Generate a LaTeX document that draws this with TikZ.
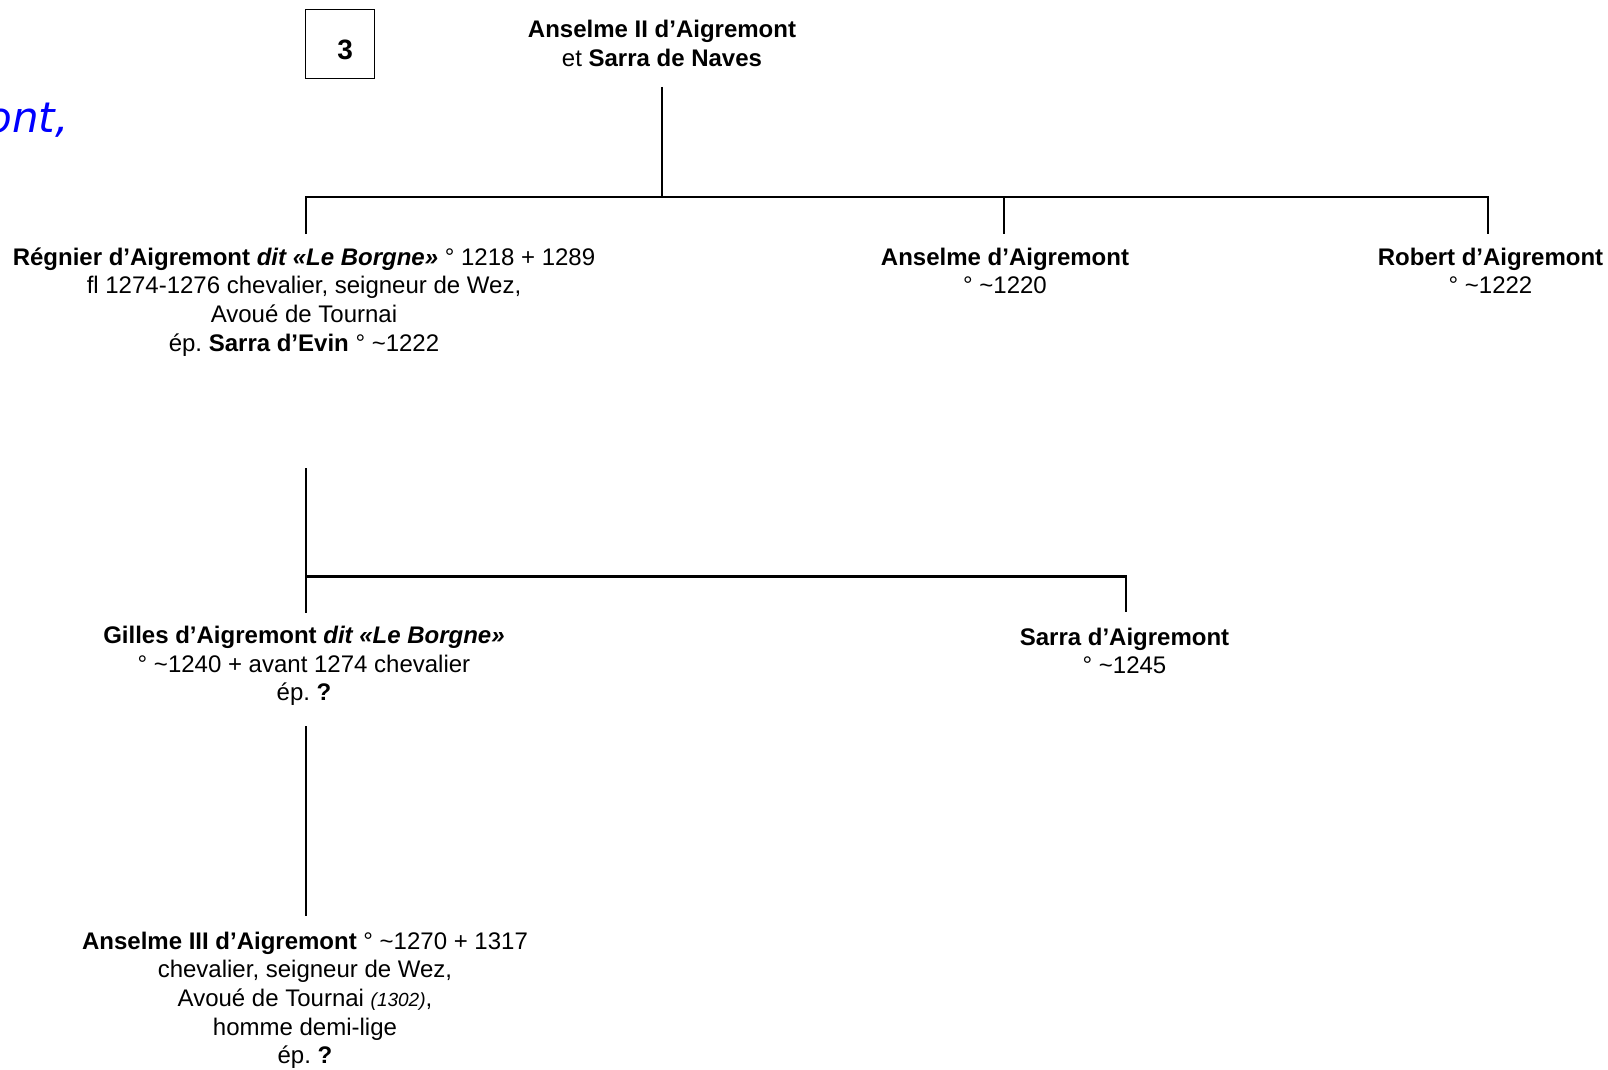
\documentclass[tikz,border=0pt]{standalone}
\usepackage{fontspec}
\setmainfont{Liberation Sans}
\newfontfamily\bluefont{DejaVu Sans}
\frenchspacing
\begin{document}
\begin{tikzpicture}[x=1pt, y=-1pt,
    person/.style={align=center, anchor=base, inner sep=0pt, font=\fontsize{24}{28.7}\selectfont},
    tree/.style={line width=2.4pt},
    numbox/.style={rectangle, draw=black, line width=1pt, minimum width=69.5pt, minimum height=69pt, text height=29.2pt, text depth=0pt, font=\fontsize{28}{32}\selectfont\bfseries}]
            \useasboundingbox (0,0) rectangle (1608,1070);

            \node (title) [anchor=base east, inner sep=0pt, text=blue, font=\fontsize{42}{50}\selectfont\bluefont\itshape] at (69,132) {ont,};
            \node (box3) [numbox] at (339.75,44.5) {\hspace{11pt}3};

            \node (anselme2) [person] at (662,66.2) {\textbf{Anselme II d’Aigremont}\\et \textbf{Sarra de Naves}};

            \node (regnier) [person] at (304,351.1) {\textbf{Régnier d’Aigremont \textit{dit «Le Borgne»}} ° 1218 + 1289\\fl 1274-1276 chevalier, seigneur de Wez,\\Avoué de Tournai\\ép. \textbf{Sarra d’Evin} ° \textasciitilde1222};
            \node (anselme) [person] at (1005,293.7) {\textbf{Anselme d’Aigremont}\\° \textasciitilde1220};
            \node (robert) [person] at (1490.5,293.7) {\textbf{Robert d’Aigremont}\\° \textasciitilde1222};

            \node (gilles) [person] at (304,700.7) {\textbf{Gilles d’Aigremont \textit{dit «Le Borgne»}}\\° \textasciitilde1240 + avant 1274 chevalier\\ép. \textbf{?}};
            \node (sarra) [person] at (1124.5,673.7) {\textbf{Sarra d’Aigremont}\\° \textasciitilde1245};

            \node (anselme3) [person] at (305,1063.8) {\textbf{Anselme III d’Aigremont} ° \textasciitilde1270 + 1317\\chevalier, seigneur de Wez,\\Avoué de Tournai {\fontsize{19}{23}\selectfont\itshape(1302)},\\homme demi-lige\\ép. \textbf{?}};

            \coordinate (a2foot) at (662,87);
            \coordinate (fork1) at (662,197);
            \coordinate (rhead) at (306,234);
            \coordinate (ahead) at (1004,234);
            \coordinate (robhead) at (1488,234);

            \coordinate (rfoot) at (306,468);
            \coordinate (fork2) at (306,576.5);
            \coordinate (ghead) at (306,613);
            \coordinate (shead) at (1126,612);

            \coordinate (gfoot) at (306,726);
            \coordinate (a3head) at (306,916);

            \draw [tree] (a2foot) -- (fork1);
            \draw [tree] (rhead) |- (fork1) -| (robhead);
            \draw [tree] (fork1) -| (ahead);

            \draw [tree] (rfoot) -- (ghead);
            \draw [tree] (fork2) -| (shead);

            \draw [tree] (gfoot) -- (a3head);
        \end{tikzpicture}
\end{document}
